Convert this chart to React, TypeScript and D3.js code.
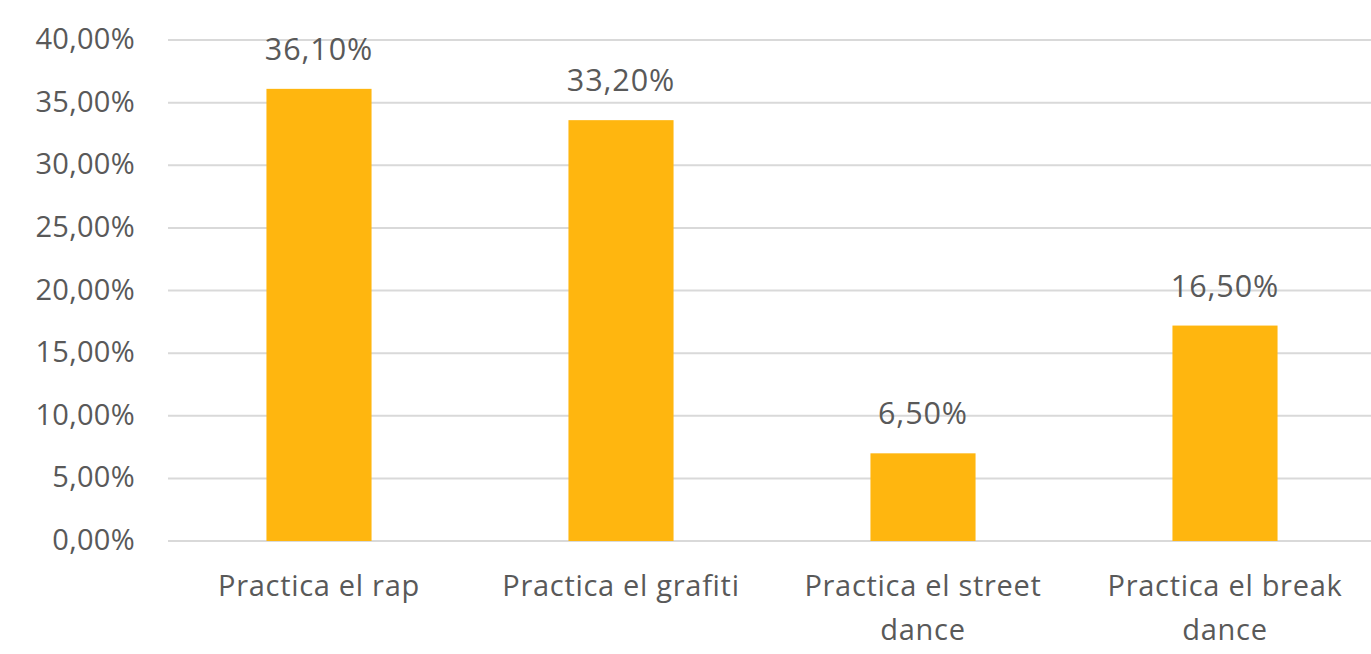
import React, { useEffect, useRef } from "react";
import * as d3 from "d3";

const categories = [
  "Practica el rap",
  "Practica el grafiti",
  "Practica el street dance",
  "Practica el break dance",
];
const barValues = [36.1, 33.6, 7.0, 17.2];
const valueLabels = ["36,10%", "33,20%", "6,50%", "16,50%"];
const yTicks = [0, 5, 10, 15, 20, 25, 30, 35, 40];

const W = 1371;
const H = 654;
const FONT = "'Open Sans', sans-serif";
const TEXT = "#595959";

export default function App() {
  const ref = useRef<SVGSVGElement>(null);

  useEffect(() => {
    const svg = d3.select(ref.current);
    svg.selectAll("*").remove();

    const x = d3
      .scaleBand<string>()
      .domain(categories)
      .range([168, 168 + 4 * 302])
      .paddingInner(0.652)
      .paddingOuter(0.326);
    const y = d3.scaleLinear().domain([0, 40]).range([541, 40]);

    const g = svg.append("g");

    g.selectAll("line.grid")
      .data(yTicks)
      .join("line")
      .attr("class", "grid")
      .attr("x1", 168)
      .attr("x2", W)
      .attr("y1", (d) => y(d))
      .attr("y2", (d) => y(d))
      .attr("stroke", "#d9d9d9")
      .attr("stroke-width", 2);

    g.selectAll("text.ytick")
      .data(yTicks)
      .join("text")
      .attr("class", "ytick")
      .attr("x", 135)
      .attr("y", (d) => y(d) + 9)
      .attr("text-anchor", "end")
      .attr("font-family", FONT)
      .attr("font-size", 29)
      .attr("letter-spacing", 0.3)
      .attr("fill", TEXT)
      .text((d) => d3.format(".2f")(d).replace(".", ",") + "%");

    g.selectAll("rect.bar")
      .data(barValues)
      .join("rect")
      .attr("class", "bar")
      .attr("x", (_, i) => x(categories[i])!)
      .attr("width", x.bandwidth())
      .attr("y", (d) => y(d))
      .attr("height", (d) => y(0) - y(d))
      .attr("fill", "#FFB60F");

    g.selectAll("text.vlabel")
      .data(barValues)
      .join("text")
      .attr("class", "vlabel")
      .attr("x", (_, i) => x(categories[i])! + x.bandwidth() / 2)
      .attr("y", (d) => y(d) - 29)
      .attr("text-anchor", "middle")
      .attr("font-family", FONT)
      .attr("font-size", 30.5)
      .attr("letter-spacing", 0.9)
      .attr("fill", TEXT)
      .text((_, i) => valueLabels[i]);

    const maxW = 290;
    categories.forEach((c) => {
      const cx = x(c)! + x.bandwidth() / 2;
      const t = g
        .append("text")
        .attr("x", cx)
        .attr("y", 596)
        .attr("text-anchor", "middle")
        .attr("font-family", FONT)
        .attr("font-size", 29)
        .attr("letter-spacing", 0.7)
        .attr("fill", TEXT);
      const words = c.split(" ");
      let line: string[] = [];
      let lineNo = 0;
      let tspan = t.append("tspan").attr("x", cx).attr("y", 596);
      words.forEach((w) => {
        line.push(w);
        tspan.text(line.join(" "));
        if ((tspan.node() as SVGTSpanElement).getComputedTextLength() > maxW && line.length > 1) {
          line.pop();
          tspan.text(line.join(" "));
          line = [w];
          lineNo++;
          tspan = t
            .append("tspan")
            .attr("x", cx)
            .attr("y", 596 + lineNo * 44)
            .text(w);
        }
      });
    });
  }, []);

  return (
    <svg
      ref={ref}
      width={W}
      height={H}
      style={{ position: "absolute", left: 0, top: 0, background: "#fff" }}
    />
  );
}
